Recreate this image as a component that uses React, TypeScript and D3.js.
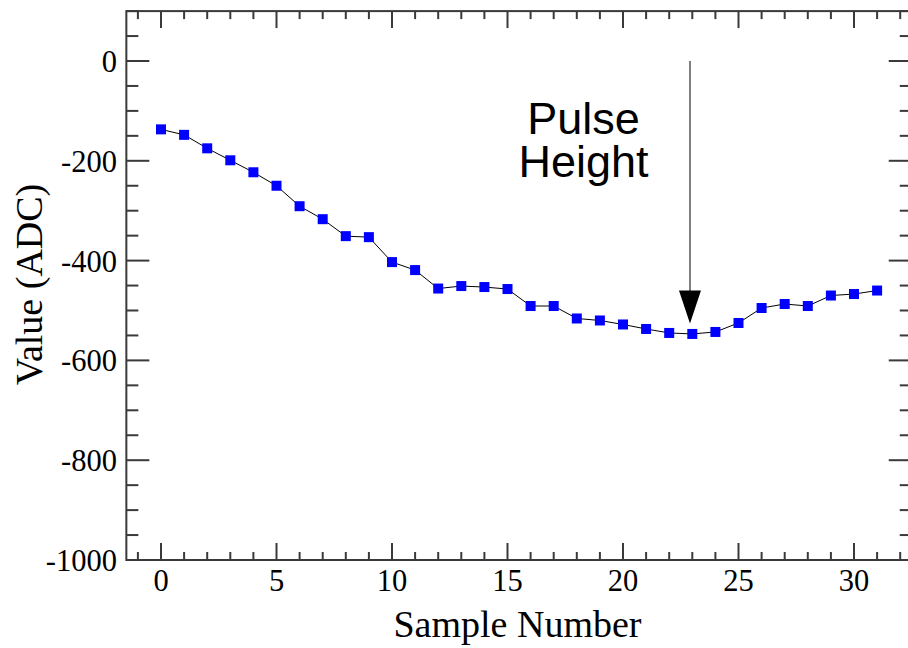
import React from "react";
import * as d3 from "d3";

const samples: number[] = d3.range(0, 32);
const values: number[] = [
  -137, -148, -175, -199, -223, -250, -291, -317, -351, -353,
  -403, -419, -456, -451, -453, -457, -491, -491, -516, -520,
  -528, -537, -545, -547, -543, -525, -495, -487, -491, -470,
  -467, -460,
];
const xMajorTicks: number[] = [0, 5, 10, 15, 20, 25, 30];
const xMinorTicks: number[] = d3.range(-1, 33);
const yMajorTicks: number[] = [-1000, -800, -600, -400, -200, 0];
const yMinorTicks: number[] = d3.range(-1000, 101, 50);
const arrowX = 22.9;
const arrowFrom = 0;
const arrowTo = -526;
const annotationLines: string[] = ["Pulse", "Height"];

const W = 908;
const H = 648;

export default function App() {
  const x = d3.scaleLinear().domain([-1.5, 32.5]).range([126.35, 911.75]);
  const y = d3.scaleLinear().domain([-1000, 100]).range([560, 11.1]);
  const [x0, x1] = x.range();
  const [yb, yt] = y.range();
  const line = d3
    .line<number>()
    .x((_, i) => x(samples[i]))
    .y((d) => y(d));
  const axisColor = "#3a3a3a";
  const serif = "'Liberation Serif', 'Times New Roman', serif";
  const sans = "'Liberation Sans', Arial, sans-serif";
  const ax = x(arrowX);
  const tipY = y(arrowTo);
  const headH = 33;
  const headW = 22;

  return (
    <svg
      width={W}
      height={H}
      style={{ position: "absolute", left: 0, top: 0, background: "#fff" }}
      xmlns="http://www.w3.org/2000/svg"
    >
      <rect x={0} y={0} width={W} height={H} fill="#fff" />
      <rect
        x={x0}
        y={yt}
        width={x1 - x0}
        height={yb - yt}
        fill="none"
        stroke={axisColor}
        strokeWidth={2}
      />
      {xMinorTicks.map((t) => {
        const major = xMajorTicks.includes(t);
        const len = major ? 17 : 8;
        return (
          <g key={"xt" + t} stroke={axisColor} strokeWidth={2}>
            <line x1={x(t)} x2={x(t)} y1={yb} y2={yb - len} />
            <line x1={x(t)} x2={x(t)} y1={yt} y2={yt + len} />
          </g>
        );
      })}
      {yMinorTicks.map((t) => {
        const major = yMajorTicks.includes(t);
        const len = major ? 23 : 12;
        return (
          <g key={"yt" + t} stroke={axisColor} strokeWidth={2}>
            <line x1={x0} x2={x0 + len} y1={y(t)} y2={y(t)} />
            <line x1={x1} x2={x1 - len} y1={y(t)} y2={y(t)} />
          </g>
        );
      })}
      {xMajorTicks.map((t) => (
        <text
          key={"xl" + t}
          x={x(t)}
          y={590.5}
          textAnchor="middle"
          fontFamily={serif}
          fontSize={30.5}
          fill="#000"
        >
          {t}
        </text>
      ))}
      {yMajorTicks.map((t) => (
        <text
          key={"yl" + t}
          x={117}
          y={y(t) + 11}
          textAnchor="end"
          fontFamily={serif}
          fontSize={30.5}
          fill="#000"
        >
          {t}
        </text>
      ))}
      <text
        x={517.5}
        y={637}
        textAnchor="middle"
        fontFamily={serif}
        fontSize={38}
        fill="#000"
      >
        Sample Number
      </text>
      <text
        transform={`translate(42, ${284.5}) rotate(-90)`}
        textAnchor="middle"
        fontFamily={serif}
        fontSize={38}
        fill="#000"
      >
        Value (ADC)
      </text>
      <path d={line(values) || ""} fill="none" stroke="#000" strokeWidth={1} />
      {values.map((v, i) => (
        <rect
          key={"m" + i}
          x={x(samples[i]) - 5}
          y={y(v) - 5}
          width={10}
          height={10}
          fill="#0000ff"
        />
      ))}
      <line
        x1={ax}
        x2={ax}
        y1={y(arrowFrom)}
        y2={tipY - headH + 1}
        stroke="#555"
        strokeWidth={1.5}
      />
      <path
        d={`M${ax - headW / 2},${tipY - headH} L${ax + headW / 2},${tipY - headH} L${ax},${tipY} Z`}
        fill="#000"
      />
      <text
        x={583.5}
        y={134}
        textAnchor="middle"
        fontFamily={sans}
        fontSize={45}
        fill="#000"
      >
        {annotationLines.map((s, i) => (
          <tspan key={"an" + i} x={583.5} dy={i === 0 ? 0 : 43}>
            {s}
          </tspan>
        ))}
      </text>
    </svg>
  );
}
